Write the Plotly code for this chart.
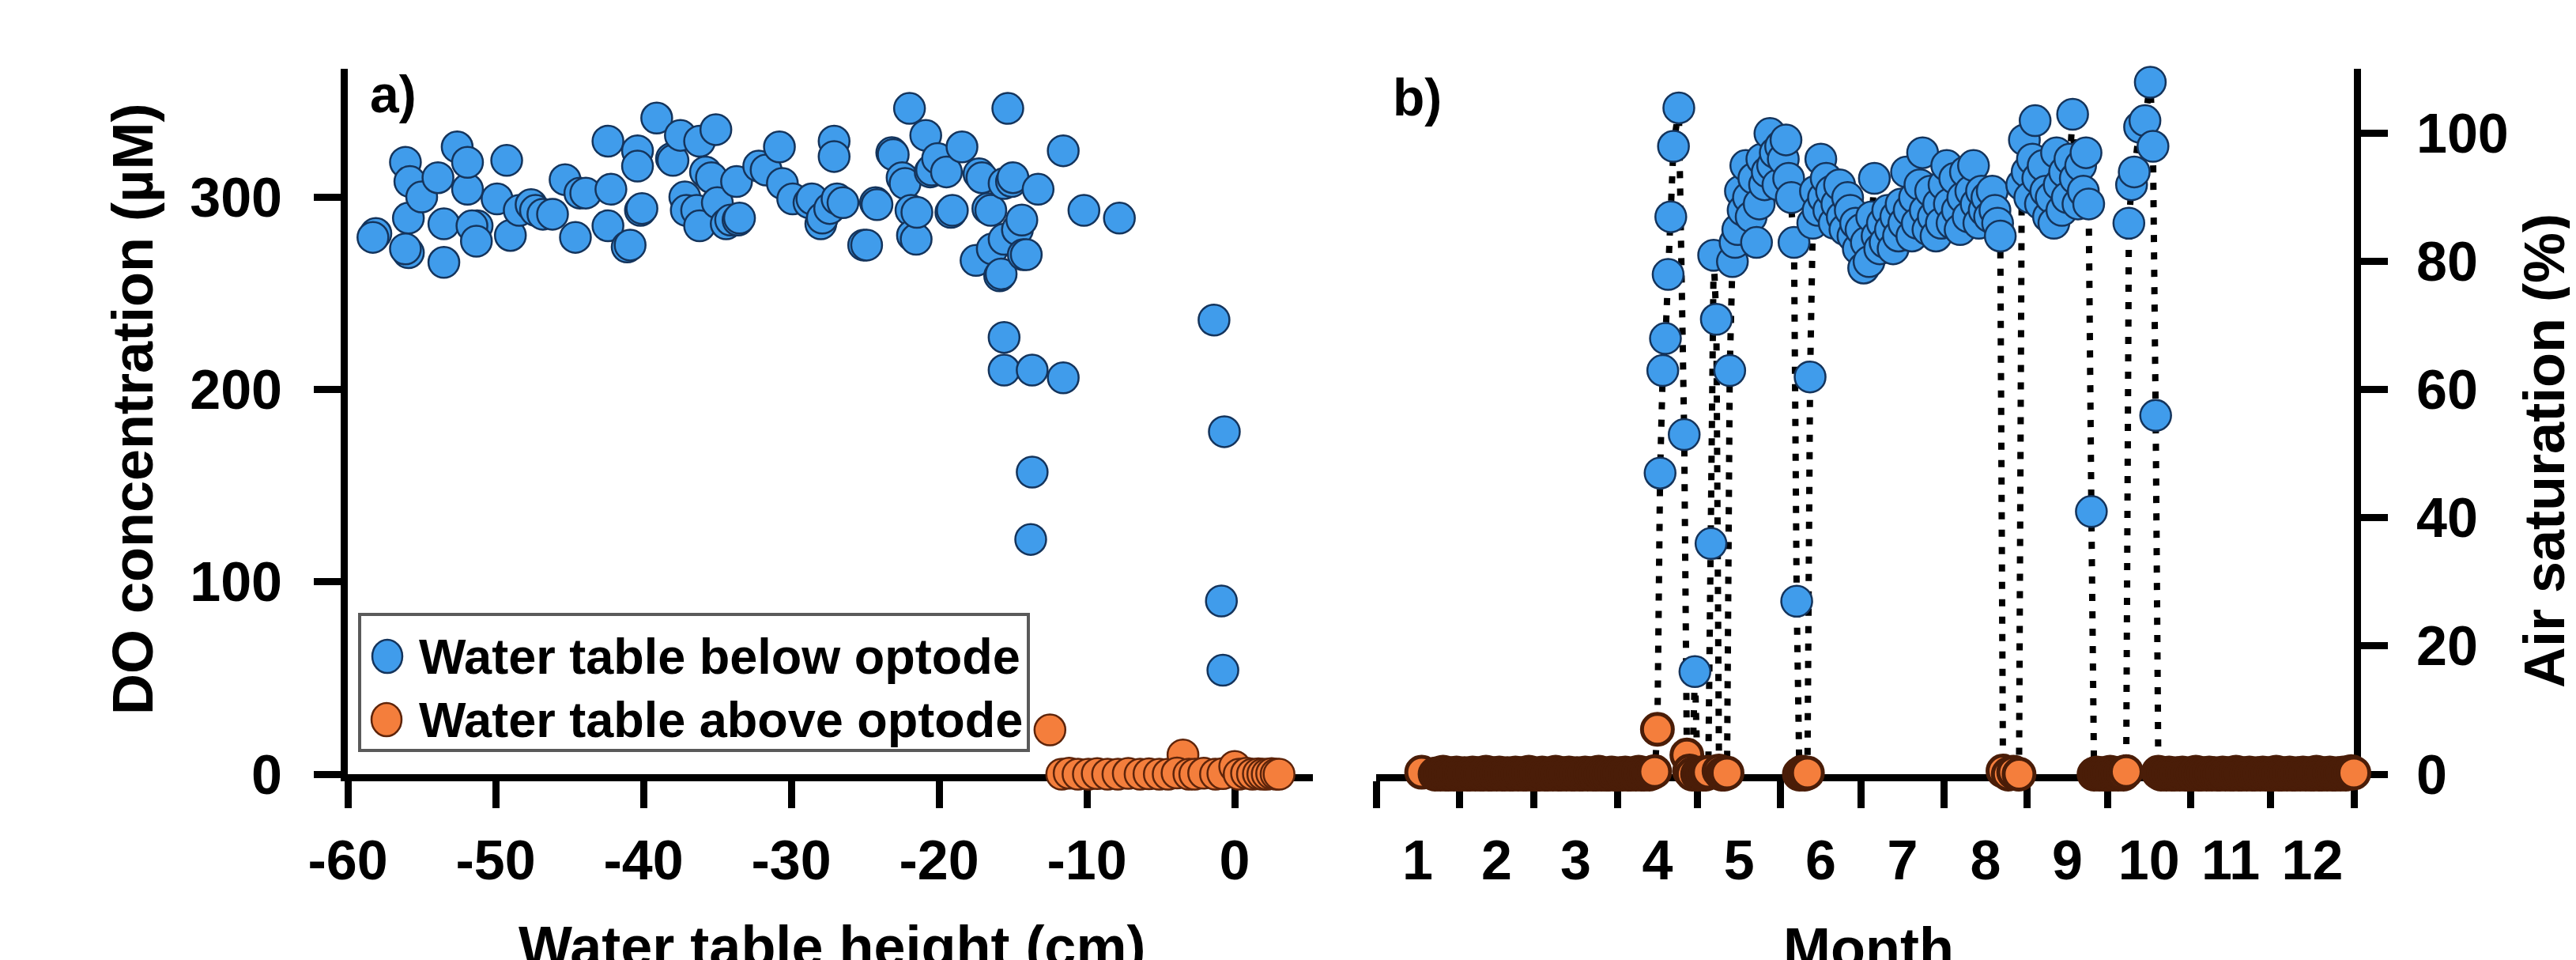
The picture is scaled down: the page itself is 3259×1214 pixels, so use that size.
import plotly.graph_objects as go

FONT = "Liberation Sans, Arial, Helvetica, sans-serif"

# ---------------- Panel a: DO concentration vs water table height ----------------
below_height = [
    -58.1, -58.3, -56.1, -55.9, -55.9, -56.1, -55.8, -55.0, -53.9, -53.5, -53.5, -52.6,
    -51.9, -51.9, -51.25, -51.6, -51.3, -49.9, -49.25, -49.0, -48.4, -47.6, -47.3, -46.8,
    -46.15, -45.3, -44.6, -44.3, -43.9, -42.4, -42.2, -42.4, -41.1, -40.9, -40.4, -40.4,
    -40.2, -40.1, -39.1, -38.1, -38.0, -37.5, -37.2, -37.1, -36.4, -36.2, -36.2, -35.8,
    -35.1, -35.4, -35.0, -34.4, -34.1, -33.7, -33.6, -33.5, -32.2, -31.7, -30.8, -30.6,
    -29.9, -28.8, -28.6, -28.0, -27.9, -27.4, -27.1, -27.1, -26.9, -26.5, -25.1, -24.9,
    -24.3, -24.2, -23.2, -23.1, -22.0, -22.5, -22.3, -21.9, -21.8, -21.55, -21.5, -20.9,
    -20.6, -20.5, -20.1, -19.5, -19.2, -19.1, -18.45, -17.5, -17.3, -17.1, -16.7, -16.5,
    -16.4, -15.9, -15.8, -15.6, -15.6, -15.35, -15.1, -15.0, -14.7, -14.4, -14.3, -14.1,
    -13.3, -11.6, -10.2, -7.8,
    -15.6, -15.6, -13.7, -11.6, -13.7, -13.8, -1.4, -0.7, -0.9, -0.8,
]
below_do = [
    281, 279, 318, 289, 271, 273, 308, 300, 310, 286, 266, 326,
    304, 318, 285, 285, 277, 299, 319, 280, 293, 296, 293, 291,
    291, 309, 279, 302, 302, 329, 304, 285, 274, 275, 324, 316,
    293, 294, 341, 320, 319, 332, 300, 293, 293, 329, 285, 313,
    335, 310, 297, 286, 288, 308, 288, 289, 316, 314, 326, 307,
    299, 297, 299, 286, 289, 294, 329, 321, 299, 297, 275, 275,
    297, 296, 323, 322, 346, 310, 307, 293, 280, 278, 292, 332,
    313, 314, 320, 313, 292, 293, 326, 267, 312, 310, 294, 293,
    273, 259, 260, 278, 307, 346, 308, 310, 283, 288, 270, 270,
    304, 324, 293, 289,
    227, 210, 210, 206, 157, 122, 236, 178, 90, 54,
]
above_height = [
    -12.5, -11.7, -11.2, -10.6, -9.9, -9.3, -8.6, -7.9, -7.2, -6.4, -5.8, -5.1, -4.5,
    -3.5, -3.9, -3.1, -2.7, -2.1, -1.3, -0.8, 0.0, 0.3, 0.8, 1.2, 1.6, 1.9, 2.2, 2.5,
    2.8, 3.0,
]
above_do = [
    23, 0, 0.5, 0, 0, 0.3, 0, 0, 0.4, 0, 0.2, 0, 0,
    10, 0.6, 0, 0, 0.5, 0, 0.3, 4, 0, 0.5, 0, 0.2, 0, 0, 0.3,
    0, 0,
]

# ---------------- Panel b: air saturation through the year (day of year) ----------------
# isolated first record (water table above optode)
first_day = [17]
first_sat = [0.3]
# daily records, water table above optode, from day 22
janapr_start = 22
janapr_sat = [
    0.0, 0.1, 0.0, 0.3, 0.0, 0.0, 0.1, 0.0, 0.2,
    0.0, 0.0, 0.1, 0.0, 0.0, 0.2, 0.0, 0.1, 0.0, 0.0,
    0.3, 0.0, 0.0, 0.1, 0.0, 0.2, 0.0, 0.0, 0.1, 0.0,
    0.0, 0.2, 0.0, 0.1, 0.0, 0.0, 0.3, 0.0, 0.1, 0.0,
    0.0, 0.2, 0.0, 0.0, 0.1, 0.0, 0.3, 0.0, 0.0, 0.1,
    0.0, 0.2, 0.0, 0.0, 0.1, 0.0, 0.0, 0.2, 0.0, 0.1,
    0.0, 0.0, 0.3, 0.0, 0.1, 0.0, 0.0, 0.2, 0.0, 0.0,
    0.1, 0.0, 0.2, 0.0, 0.0, 0.1, 0.0, 0.3, 0.0, 0.0,
    0.1, 0.0, 0.2, 0.4,
]
# April-May wetting/drying events (1 = water table below optode)
event_days = [105, 106, 107, 108, 109, 110, 111, 113, 115, 116, 117, 118, 119, 120,
              121, 122, 123, 124, 125, 126, 127, 128, 129, 130, 131, 132, 133]
event_sat = [7, 47, 63, 68, 78, 87, 98, 104, 53, 3, 0.5, 0, 16, 0,
             0.2, 0, 0, 0.3, 36, 81, 71, 0.5, 0, 0, 0.2, 63, 80]
event_below = [0, 1, 1, 1, 1, 1, 1, 1, 1, 0, 0, 0, 1, 0,
               0, 0, 0, 0, 1, 1, 1, 0, 0, 0, 0, 1, 1]
# May-June daily, water table below optode
mayjun_start = 134
mayjun_sat = [83, 85, 91, 88, 95, 90, 87, 93, 83, 89, 96, 92, 94, 100, 95, 97, 92, 98,
              96, 99, 93, 90, 83]
# June event
june_days = [157, 158, 159, 160, 161, 162]
june_sat = [27, 0, 0.3, 0, 0.2, 62]
june_below = [1, 0, 0, 0, 0, 1]
# June-August daily, water table below optode
junaug_start = 163
junaug_sat = [
    86, 91, 88, 96, 90, 93, 88, 91, 86, 89,
    92, 87, 85, 90, 88, 84, 86, 82, 85, 79,
    83, 80, 87, 93, 84, 82, 86, 83, 88, 85,
    82, 87, 84, 89, 86, 94, 88, 84, 90, 86,
    92, 97, 88, 85, 91, 87, 84, 89, 86, 92,
    95, 89, 86, 93, 88, 85, 90, 94, 87, 91,
    95, 89, 86, 91, 88, 90, 87, 91, 88, 86,
    84,
]
# August event, water table above optode
aug_days = [234, 236, 238, 240]
aug_sat = [0.5, 0, 0.3, 0]
# August-September daily, water table below optode
augsep_start = 241
augsep_sat = [92, 99, 94, 90, 96, 102, 93, 89, 95, 91, 87, 90, 86, 97, 92, 88, 94, 90,
              96, 103, 93, 89, 95, 91, 97, 89, 41]
# September-October daily, water table above optode
sepoct_start = 268
sepoct_sat = [0, 0.2, 0, 0.1, 0, 0, 0.3, 0, 0.1, 0, 0.2, 0, 0.4]
# October, water table below optode
oct_days = [281, 282, 283, 285, 287, 289, 290, 291]
oct_sat = [86, 92, 94, 101, 102, 108, 98, 56]
# October-December daily, water table above optode
octdec_start = 292
octdec_sat = [
    0.3, 0, 0.1, 0, 0.2, 0, 0, 0.1, 0, 0.2,
    0, 0, 0.1, 0, 0.3, 0, 0, 0.1, 0, 0.2,
    0, 0.1, 0, 0, 0.2, 0, 0.1, 0, 0, 0.3,
    0, 0, 0.1, 0, 0.2, 0, 0, 0.1, 0, 0.2,
    0, 0.1, 0, 0, 0.3, 0, 0, 0.1, 0, 0.2,
    0, 0, 0.1, 0, 0.2, 0, 0.1, 0, 0, 0.3,
    0, 0, 0.1, 0, 0.2, 0, 0, 0.1, 0, 0.2,
    0, 0.1, 0.4, 0.2,
]

month_edges = [0, 31, 59, 90, 120, 151, 181, 212, 243, 273, 304, 334, 365]
month_mid = [15.5, 45, 74.5, 105, 135.5, 166, 196.5, 227.5, 258, 288.5, 319, 349.5]
month_labels = ["1", "2", "3", "4", "5", "6", "7", "8", "9", "10", "11", "12"]

do_ticks = [0, 100, 200, 300]
sat_ticks = [0, 20, 40, 60, 80, 100]
height_ticks = [-60, -50, -40, -30, -20, -10, 0]
height_labels = ["-60", "-50", "-40", "-30", "-20", "-10", "0"]

# ---------------- assemble time series ----------------
def daily(start, vals):
    return list(range(start, start + len(vals)))

ts_day, ts_sat, ts_below = [], [], []
def add(days, sats, below):
    ts_day.extend(days); ts_sat.extend(sats); ts_below.extend(below)

add(first_day, first_sat, [0])
add(daily(janapr_start, janapr_sat), janapr_sat, [0] * len(janapr_sat))
add(event_days, event_sat, event_below)
add(daily(mayjun_start, mayjun_sat), mayjun_sat, [1] * len(mayjun_sat))
add(june_days, june_sat, june_below)
add(daily(junaug_start, junaug_sat), junaug_sat, [1] * len(junaug_sat))
add(aug_days, aug_sat, [0] * len(aug_sat))
add(daily(augsep_start, augsep_sat), augsep_sat, [1] * len(augsep_sat))
add(daily(sepoct_start, sepoct_sat), sepoct_sat, [0] * len(sepoct_sat))
add(oct_days, oct_sat, [1] * len(oct_sat))
add(daily(octdec_start, octdec_sat), octdec_sat, [0] * len(octdec_sat))

b_day = [d for d, f in zip(ts_day, ts_below) if f == 1]
b_sat = [s for s, f in zip(ts_sat, ts_below) if f == 1]
a_day = [d for d, f in zip(ts_day, ts_below) if f == 0]
a_sat = [s for s, f in zip(ts_sat, ts_below) if f == 0]

# ---------------- figure ----------------
BLUE, BLUE_EDGE = "#409CEB", "#14345C"
ORANGE, ORANGE_EDGE = "#F47E3C", "#5E240A"
MS = 39
EW = 2.5

fig = go.Figure()
fig.add_trace(go.Scatter(x=below_height, y=below_do, mode="markers", xaxis="x", yaxis="y",
                         marker=dict(size=MS, color=BLUE, line=dict(color=BLUE_EDGE, width=EW)),
                         cliponaxis=False, showlegend=False))
fig.add_trace(go.Scatter(x=above_height, y=above_do, mode="markers", xaxis="x", yaxis="y",
                         marker=dict(size=MS, color=ORANGE, line=dict(color=ORANGE_EDGE, width=EW)),
                         cliponaxis=False, showlegend=False))
fig.add_trace(go.Scatter(x=ts_day, y=ts_sat, mode="lines", xaxis="x2", yaxis="y3",
                         line=dict(color="black", width=8, dash="9px,13px"),
                         cliponaxis=False, showlegend=False))
fig.add_trace(go.Scatter(x=b_day, y=b_sat, mode="markers", xaxis="x2", yaxis="y3",
                         marker=dict(size=MS, color=BLUE, line=dict(color=BLUE_EDGE, width=EW)),
                         cliponaxis=False, showlegend=False))
fig.add_trace(go.Scatter(x=a_day, y=a_sat, mode="markers", xaxis="x2", yaxis="y3",
                         marker=dict(size=MS, color=ORANGE, line=dict(color="#4A1D08", width=5)),
                         cliponaxis=False, showlegend=False))

W, H = 3259, 1214
L, R, T, B = 432, 289, 79, 243
PW, PH = W - L - R, H - T - B

def px(x):
    return (x - L) / PW

def py(y):
    return (H - B - y) / PH

tickfont = dict(family=FONT, size=70, color="black", weight="bold")
common = dict(showline=True, linecolor="black", linewidth=9, ticks="outside", ticklen=34,
              tickwidth=9, tickcolor="black", showgrid=False, zeroline=False,
              tickfont=tickfont, layer="below traces", fixedrange=True)

fig.update_layout(
    width=W, height=H, margin=dict(l=L, r=R, t=T, b=B, pad=0),
    paper_bgcolor="white", plot_bgcolor="white", showlegend=False,
    xaxis=dict(domain=[0, px(1653)], range=[-60, 5.29], anchor="y", tickmode="array",
               tickvals=height_ticks, ticktext=height_labels, ticklabelstandoff=6, **common),
    yaxis=dict(domain=[0, 1], range=[0, 366.6], anchor="x", tickmode="array",
               tickvals=do_ticks, ticklabelstandoff=26, **common),
    xaxis2=dict(domain=[px(1733), 1], range=[0, 365], anchor="y2", tickmode="array",
                tickvals=month_mid, ticktext=month_labels, ticklabelstandoff=6,
                minor=dict(tickmode="array", tickvals=month_edges, ticks="outside",
                           ticklen=34, tickwidth=9, tickcolor="black"),
                **{**common, "tickcolor": "rgba(0,0,0,0)"}),
    yaxis2=dict(domain=[0, 1], range=[0, 366.6], anchor="x2", tickmode="array",
                tickvals=do_ticks, showticklabels=False, **common),
    yaxis3=dict(domain=[0, 1], range=[0, 110.1], anchor="x2", overlaying="y2", side="right",
                tickmode="array", tickvals=sat_ticks, ticklabelstandoff=22, **common),
)

title_font = dict(family=FONT, size=72, color="black", weight="bold")
annos = [
    dict(text="DO concentration (\u00b5M)", x=px(160), y=py(510), textangle=-90,
         xanchor="center", yanchor="middle", font=title_font),
    dict(text="Air saturation (%)", x=px(3211), y=py(562), textangle=-90,
         xanchor="center", yanchor="middle", font=title_font),
    dict(text="Water table height (cm)", x=px(1044), y=py(1147), xanchor="center",
         yanchor="top", font=title_font),
    dict(text="Month", x=px(2356), y=py(1149), xanchor="center", yanchor="top", font=title_font),
    dict(text="a)", x=px(458), y=py(72), xanchor="left", yanchor="top",
         font=dict(family=FONT, size=66, color="black", weight="bold")),
    dict(text="b)", x=px(1752), y=py(76), xanchor="left", yanchor="top",
         font=dict(family=FONT, size=66, color="black", weight="bold")),
    dict(text="Water table below optode", x=px(520), y=py(822), xanchor="left",
         yanchor="middle", font=dict(family=FONT, size=63, color="black", weight="bold")),
    dict(text="Water table above optode", x=px(520), y=py(902), xanchor="left",
         yanchor="middle", font=dict(family=FONT, size=63, color="black", weight="bold")),
]
for a in annos:
    a.update(xref="paper", yref="paper", showarrow=False)
fig.update_layout(annotations=annos)

shapes = [
    dict(type="rect", xref="paper", yref="paper", x0=px(447), x1=px(1293), y0=py(941), y1=py(769),
         line=dict(color="#5A5A5A", width=4), fillcolor="white", layer="above"),
    dict(type="circle", xref="paper", yref="paper", xsizemode="pixel", ysizemode="pixel",
         xanchor=px(482), yanchor=py(822), x0=-19, x1=19, y0=-21, y1=21,
         fillcolor=BLUE, line=dict(color=BLUE_EDGE, width=EW), layer="above"),
    dict(type="circle", xref="paper", yref="paper", xsizemode="pixel", ysizemode="pixel",
         xanchor=px(481), yanchor=py(902), x0=-19, x1=19, y0=-21, y1=21,
         fillcolor=ORANGE, line=dict(color=ORANGE_EDGE, width=EW), layer="above"),
]
fig.update_layout(shapes=shapes)

fig.write_html("out.html")
